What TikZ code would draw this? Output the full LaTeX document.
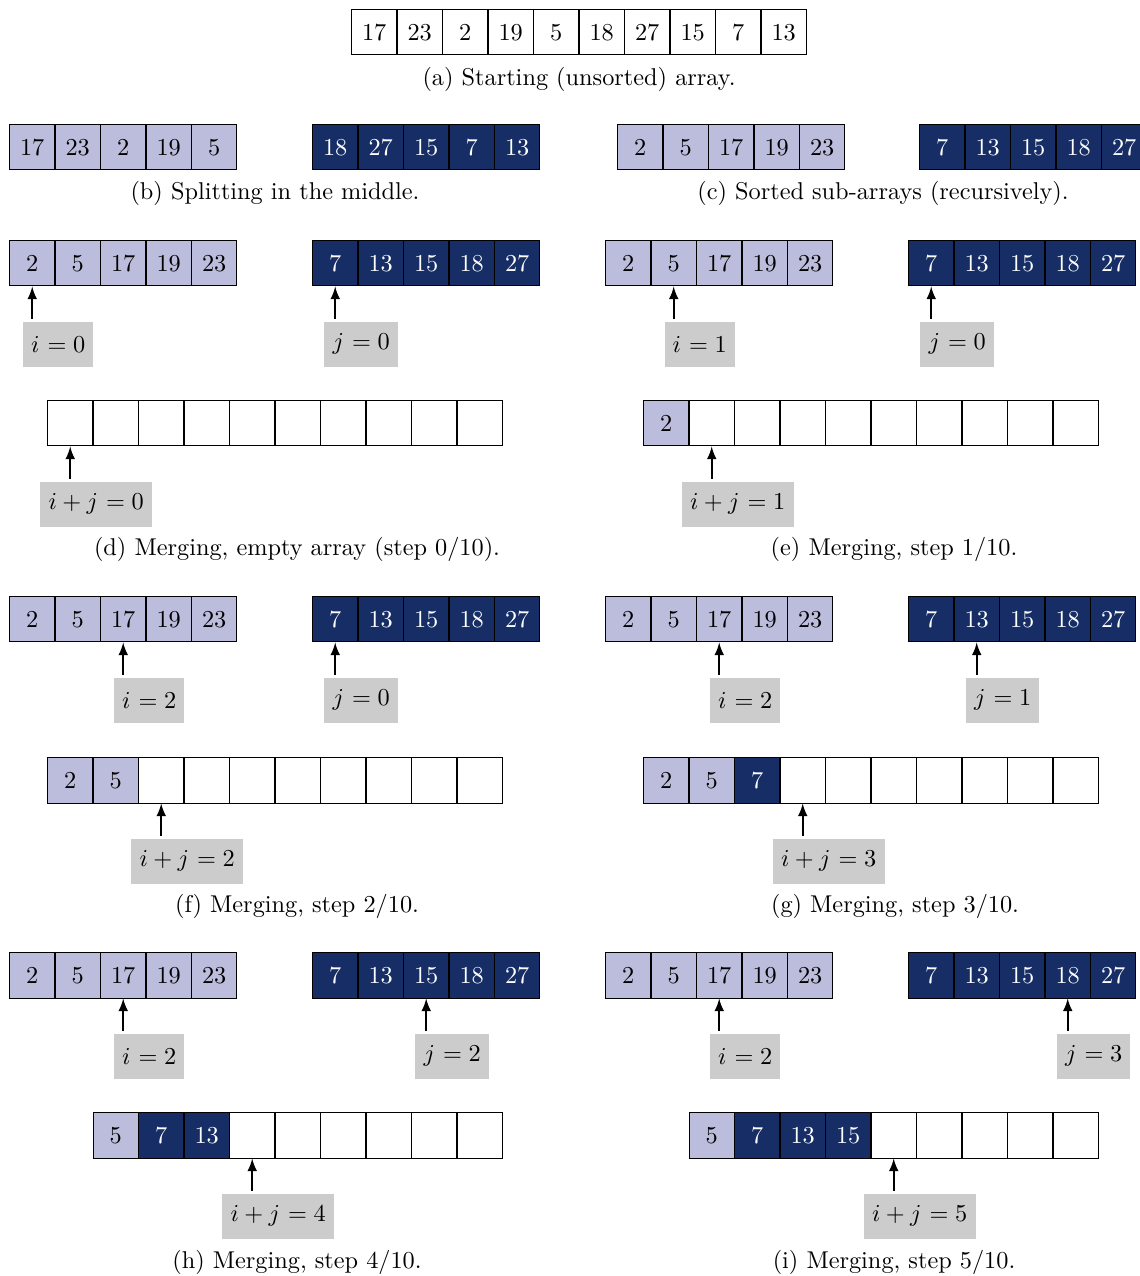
\documentclass[tikz,border=0pt]{standalone}
\usetikzlibrary{positioning}
\definecolor{lopart}{RGB}{188,189,220}
\definecolor{hipart}{RGB}{22,46,101}
% one row of cells: name, left x, top y, list of value/style
\newcommand{\arr}[4]{%
  \foreach \v/\s [count=\k from 0] in {#4}
    \node[cell,\s] (#1-\k) at ({#2+\k*45.5},#3) {\v};%
}
% index label under a cell, with its arrow
\newcommand{\ptr}[3]{%
  \node[idx, below=0.5cm of #1.south, xshift=0.376cm] (#2) {#3};
  \draw[ptrto] (#2.north -| #1.south) -- (#1.south);%
}
\begin{document}
\begin{tikzpicture}[
  x=0.01447cm, y=-0.01447cm,
  cell/.style={draw, minimum size=0.658cm, inner sep=0pt, anchor=north west},
  lo/.style={fill=lopart},
  hi/.style={fill=hipart, text=white},
  blank/.style={},
  idx/.style={fill=black!20, minimum size=0.658cm},
  ptrto/.style={thick, -latex, shorten <=1pt}
]
\useasboundingbox (0,0) rectangle (1140,1276);

% (a)
\arr{a}{351}{9}{17/blank,23/blank,2/blank,19/blank,5/blank,18/blank,27/blank,15/blank,7/blank,13/blank}
\node (capa) at (579,79) {(a) Starting (unsorted) array.};

% (b) and (c)
\arr{bl}{9}{124}{17/lo,23/lo,2/lo,19/lo,5/lo}
\arr{br}{312}{124}{18/hi,27/hi,15/hi,7/hi,13/hi}
\node (capb) at (275,193) {(b) Splitting in the middle.};
\arr{cl}{617}{124}{2/lo,5/lo,17/lo,19/lo,23/lo}
\arr{cr}{919}{124}{7/hi,13/hi,15/hi,18/hi,27/hi}
\node (capc) at (883,193) {(c) Sorted sub-arrays (recursively).};

% (d)
\arr{dl}{9}{240}{2/lo,5/lo,17/lo,19/lo,23/lo}
\arr{dr}{312}{240}{7/hi,13/hi,15/hi,18/hi,27/hi}
\ptr{dl-0}{di}{$i$ $= 0$}
\ptr{dr-0}{dj}{$j$ $= 0$}
\arr{dm}{47}{400}{/blank,/blank,/blank,/blank,/blank,/blank,/blank,/blank,/blank,/blank}
\ptr{dm-0}{dk}{$i + j$ $= 0$}
\node (capd) at (297,549) {(d) Merging, empty array (step $0/10$).};

% (e)
\arr{el}{605}{240}{2/lo,5/lo,17/lo,19/lo,23/lo}
\arr{er}{908}{240}{7/hi,13/hi,15/hi,18/hi,27/hi}
\ptr{el-1}{ei}{$i$ $= 1$}
\ptr{er-0}{ej}{$j$ $= 0$}
\arr{em}{643}{400}{2/lo,/blank,/blank,/blank,/blank,/blank,/blank,/blank,/blank,/blank}
\ptr{em-1}{ek}{$i + j$ $= 1$}
\node (cape) at (894,549) {(e) Merging, step $1/10$.};

% (f)
\arr{fl}{9}{596}{2/lo,5/lo,17/lo,19/lo,23/lo}
\arr{fr}{312}{596}{7/hi,13/hi,15/hi,18/hi,27/hi}
\ptr{fl-2}{fi}{$i$ $= 2$}
\ptr{fr-0}{fj}{$j$ $= 0$}
\arr{fm}{47}{757}{2/lo,5/lo,/blank,/blank,/blank,/blank,/blank,/blank,/blank,/blank}
\ptr{fm-2}{fk}{$i + j$ $= 2$}
\node (capf) at (297,906) {(f) Merging, step $2/10$.};

% (g)
\arr{gl}{605}{596}{2/lo,5/lo,17/lo,19/lo,23/lo}
\arr{gr}{908}{596}{7/hi,13/hi,15/hi,18/hi,27/hi}
\ptr{gl-2}{gi}{$i$ $= 2$}
\ptr{gr-1}{gj}{$j$ $= 1$}
\arr{gm}{643}{757}{2/lo,5/lo,7/hi,/blank,/blank,/blank,/blank,/blank,/blank,/blank}
\ptr{gm-3}{gk}{$i + j$ $= 3$}
\node (capg) at (895,906) {(g) Merging, step $3/10$.};

% (h)
\arr{hl}{9}{952}{2/lo,5/lo,17/lo,19/lo,23/lo}
\arr{hr}{312}{952}{7/hi,13/hi,15/hi,18/hi,27/hi}
\ptr{hl-2}{hi}{$i$ $= 2$}
\ptr{hr-2}{hj}{$j$ $= 2$}
\arr{hm}{92.5}{1112}{5/lo,7/hi,13/hi,/blank,/blank,/blank,/blank,/blank,/blank}
\ptr{hm-3}{hk}{$i + j$ $= 4$}
\node (caph) at (297,1262) {(h) Merging, step $4/10$.};

% (i)
\arr{il}{605}{952}{2/lo,5/lo,17/lo,19/lo,23/lo}
\arr{ir}{908}{952}{7/hi,13/hi,15/hi,18/hi,27/hi}
\ptr{il-2}{ii}{$i$ $= 2$}
\ptr{ir-3}{ij}{$j$ $= 3$}
\arr{im}{688.5}{1112}{5/lo,7/hi,13/hi,15/hi,/blank,/blank,/blank,/blank,/blank}
\ptr{im-4}{ik}{$i + j$ $= 5$}
\node (capi) at (894,1262) {(i) Merging, step $5/10$.};
\end{tikzpicture}
\end{document}
